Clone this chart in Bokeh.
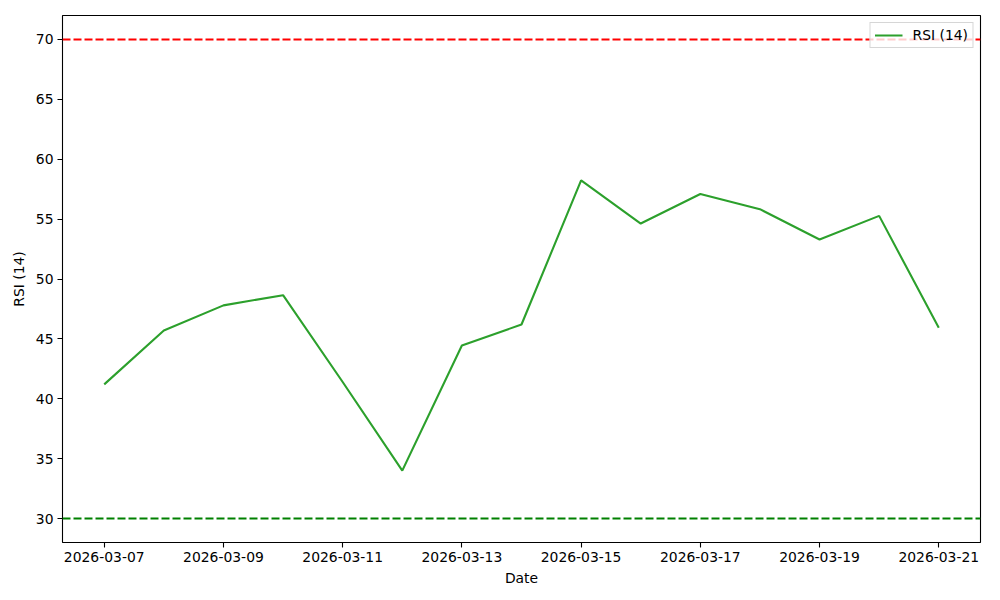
from datetime import datetime, timedelta
from bokeh.plotting import figure
from bokeh.models import Range1d, Span, FixedTicker, DatetimeTickFormatter, Legend, LegendItem
from bokeh.embed import file_html
from bokeh.resources import INLINE

dates = ["2026-03-07", "2026-03-08", "2026-03-09", "2026-03-10", "2026-03-11",
         "2026-03-12", "2026-03-13", "2026-03-14", "2026-03-15", "2026-03-16",
         "2026-03-17", "2026-03-18", "2026-03-19", "2026-03-20", "2026-03-21"]
rsi = [41.2, 45.7, 47.8, 48.65, 41.4, 34.0, 44.45, 46.2, 58.23, 54.63,
       57.1, 55.83, 53.3, 55.27, 45.92]
overbought = 70
oversold = 30
y_ticks = [30, 35, 40, 45, 50, 55, 60, 65, 70]
series_label = "RSI (14)"

FONT = "DejaVu Sans"
FS = "13.9px"
x = [datetime.strptime(d, "%Y-%m-%d") for d in dates]
span_days = (x[-1] - x[0]).total_seconds() / 86400.0
pad = timedelta(days=span_days * 0.05)

p = figure(width=1000, height=600, x_axis_type="datetime",
           output_backend="svg", toolbar_location=None,
           x_range=Range1d(x[0] - pad, x[-1] + pad),
           y_range=Range1d(28, 72),
           min_border_left=62, min_border_right=20,
           min_border_top=15, min_border_bottom=58)
p.grid.visible = False
p.outline_line_color = "black"
p.outline_line_width = 1.1
p.outline_line_alpha = 1

r = p.line(x, rsi, line_color="#2ca02c", line_width=2.1)

p.add_layout(Span(location=overbought, dimension="width", line_color="red",
                  line_dash="8 3", line_width=2.1))
p.add_layout(Span(location=oversold, dimension="width", line_color="green",
                  line_dash="8 3", line_width=2.1))

tick_ms = [xi.timestamp() * 1000 for xi in x[::2]]
p.xaxis.ticker = FixedTicker(ticks=tick_ms)
p.xaxis.formatter = DatetimeTickFormatter(days="%Y-%m-%d", months="%Y-%m-%d",
                                          hours="%Y-%m-%d")
p.yaxis.ticker = FixedTicker(ticks=y_ticks)

for ax in (p.xaxis, p.yaxis):
    ax.axis_line_color = None
    ax.major_tick_line_color = "black"
    ax.major_tick_line_width = 1.1
    ax.major_tick_in = 0
    ax.major_tick_out = 5
    ax.minor_tick_line_color = None
    ax.major_label_text_font = FONT
    ax.major_label_text_font_size = FS
    ax.major_label_text_color = "black"
    ax.axis_label_text_font = FONT
    ax.axis_label_text_font_size = FS
    ax.axis_label_text_font_style = "normal"
    ax.axis_label_text_color = "black"
    ax.major_label_standoff = 4

p.xaxis.axis_label = "Date"
p.yaxis.axis_label = "RSI (14)"
p.xaxis.axis_label_standoff = 5
p.yaxis.axis_label_standoff = 6

legend = Legend(items=[LegendItem(label=series_label, renderers=[r])],
                location="top_right", margin=7, padding=4, spacing=0,
                glyph_width=28, glyph_height=14, label_standoff=10,
                label_text_font=FONT, label_text_font_size=FS,
                label_text_color="black",
                label_height=14,
                border_line_color="#cccccc", border_line_alpha=0.8,
                background_fill_alpha=0.8)
p.add_layout(legend)

open("out.html", "w").write(file_html(p, INLINE))
